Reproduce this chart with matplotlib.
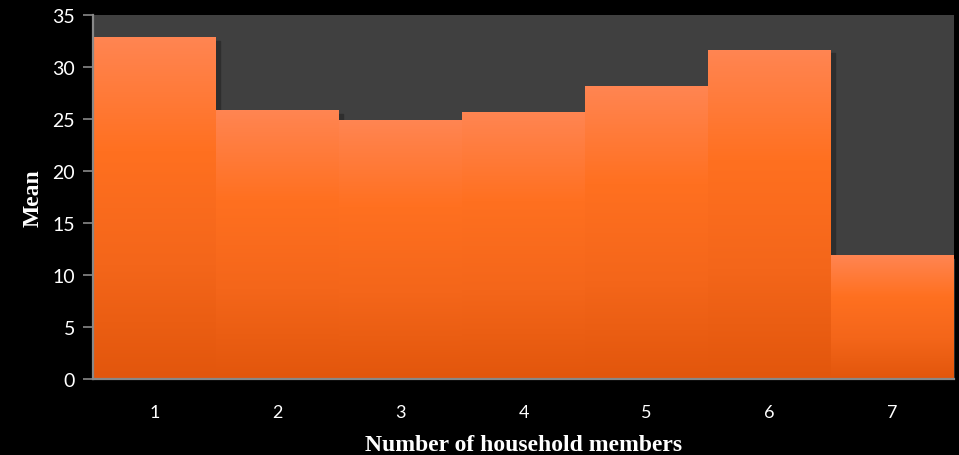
import numpy as np
import matplotlib.pyplot as plt
from matplotlib.colors import LinearSegmentedColormap

members = ['1', '2', '3', '4', '5', '6', '7']
mean_values = [32.8, 25.8, 24.9, 25.6, 28.1, 31.6, 11.85]

bar_cmap = LinearSegmentedColormap.from_list(
    'bar_orange', ['#e2560c', '#f4661a', '#ff7020', '#ff8552'])

fig = plt.figure(figsize=(9.59, 4.56), dpi=100, facecolor='black')
ax = fig.add_axes([0.097, 0.1667, 0.8978, 0.7983])
ax.set_facecolor('#404040')

x = np.arange(len(members))
bars = ax.bar(x, mean_values, width=1.0, color='none', edgecolor='none')

# vertical gradient fill inside each bar, light at the top
grad = np.linspace(0, 1, 256).reshape(-1, 1)
for b in bars:
    x0, w, h = b.get_x(), b.get_width(), b.get_height()
    # soft shadow on the right side of the bar
    ax.fill_between([x0 + w, x0 + w + 0.03], 0, h - 0.3, color='#2e2e2e', zorder=1.5)
    ax.imshow(grad, cmap=bar_cmap, origin='lower', aspect='auto',
              extent=(x0, x0 + w, 0, h), zorder=2, interpolation='bilinear')

ax.set_xlim(-0.5, len(members) - 0.5)
ax.set_ylim(0, 35)
ax.set_yticks(range(0, 36, 5))
ax.set_xticks(x)
ax.set_xticklabels(members)

for side in ['top', 'right']:
    ax.spines[side].set_visible(False)
for side in ['left', 'bottom']:
    ax.spines[side].set_color('#888888')
    ax.spines[side].set_linewidth(1.6)
    ax.spines[side].set_zorder(5)

ax.tick_params(axis='y', colors='#888888', labelcolor='white', length=7,
               width=1.2, labelsize=14, pad=6)
ax.tick_params(axis='x', length=0, labelcolor='white', labelsize=13, pad=18)
for lbl in ax.get_xticklabels() + ax.get_yticklabels():
    lbl.set_family('Lato')

ax.set_xlabel('Number of household members', color='white', fontsize=17,
              fontweight='bold', family='Liberation Serif', labelpad=10)
ax.set_ylabel('Mean', color='white', fontsize=17, fontweight='bold',
              family='Liberation Serif', labelpad=6)

fig.savefig('out.png', dpi=100, facecolor='black')
